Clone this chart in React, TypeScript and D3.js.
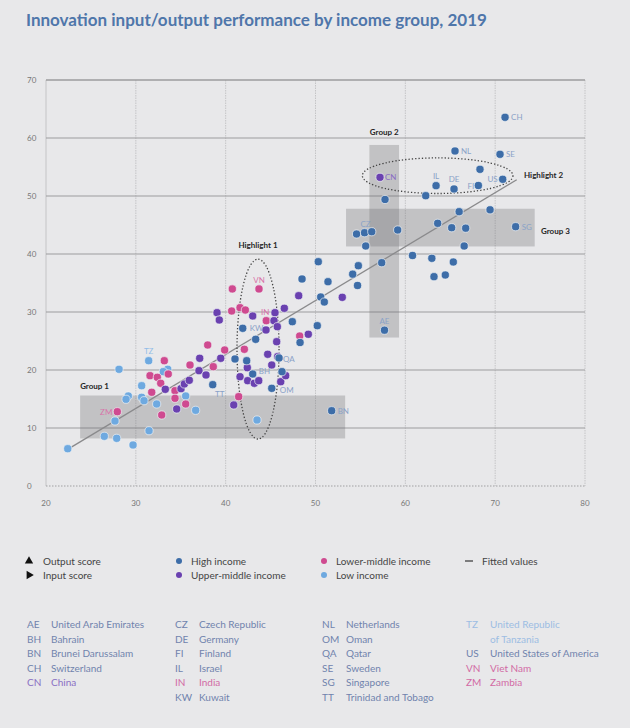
import React from "react";
import * as d3 from "d3";

type Pt = { x: number; y: number; code?: string };

const highIncome: Pt[] = [
  { x: 38.56, y: 17.47, code: "TT" }, { x: 41.04, y: 21.9 }, { x: 41.9, y: 27.19, code: "KW" },
  { x: 42.34, y: 21.6 }, { x: 43.01, y: 19.31, code: "BH" }, { x: 43.34, y: 25.29 },
  { x: 45.13, y: 16.84, code: "OM" }, { x: 46.27, y: 19.71 }, { x: 45.94, y: 22.07, code: "QA" },
  { x: 47.42, y: 28.33 }, { x: 48.28, y: 24.74 }, { x: 50.2, y: 27.64 }, { x: 50.58, y: 32.59 },
  { x: 50.98, y: 31.72 }, { x: 48.5, y: 35.69 }, { x: 50.31, y: 38.67 }, { x: 51.39, y: 35.22 },
  { x: 54.68, y: 34.57 }, { x: 54.14, y: 36.52 }, { x: 54.77, y: 37.98 }, { x: 57.37, y: 38.5 },
  { x: 55.59, y: 41.38 }, { x: 54.57, y: 43.45 }, { x: 55.46, y: 43.67, code: "CZ" },
  { x: 56.26, y: 43.84 }, { x: 59.15, y: 44.14 }, { x: 57.68, y: 26.86, code: "AE" },
  { x: 51.8, y: 12.98, code: "BN" }, { x: 57.74, y: 49.4 }, { x: 62.27, y: 50.05 },
  { x: 63.42, y: 51.78, code: "IL" }, { x: 65.42, y: 51.21, code: "DE" }, { x: 68.13, y: 51.81, code: "FI" },
  { x: 68.31, y: 54.6 }, { x: 70.84, y: 52.88, code: "US" }, { x: 65.53, y: 57.76, code: "NL" },
  { x: 70.54, y: 57.19, code: "SE" }, { x: 71.1, y: 63.57, code: "CH" }, { x: 65.99, y: 47.29 },
  { x: 69.43, y: 47.62 }, { x: 63.6, y: 45.29 }, { x: 65.16, y: 44.53 }, { x: 66.72, y: 44.45 },
  { x: 72.28, y: 44.71, code: "SG" }, { x: 66.55, y: 41.38 }, { x: 60.8, y: 39.74 },
  { x: 62.95, y: 39.26 }, { x: 65.34, y: 38.62 }, { x: 63.19, y: 36.09 }, { x: 64.45, y: 36.38 },
];

const upperMiddle: Pt[] = [
  { x: 33.28, y: 16.67 }, { x: 34.55, y: 13.28 }, { x: 35.03, y: 16.78 }, { x: 35.4, y: 17.59 },
  { x: 35.95, y: 18.22 }, { x: 37.11, y: 22.02 }, { x: 37.03, y: 19.88 }, { x: 37.81, y: 19.14 },
  { x: 39.45, y: 22.02 }, { x: 39.04, y: 29.88 }, { x: 39.29, y: 28.62 }, { x: 40.9, y: 13.97 },
  { x: 42.41, y: 20.4 }, { x: 41.6, y: 18.84 }, { x: 42.45, y: 18.16 }, { x: 43.01, y: 29.31 },
  { x: 43.19, y: 17.71 }, { x: 43.68, y: 18.16 }, { x: 44.49, y: 26.9 }, { x: 45.49, y: 29.88 },
  { x: 45.38, y: 28.5 }, { x: 45.75, y: 27.47 }, { x: 45.68, y: 24.88 }, { x: 44.68, y: 22.71 },
  { x: 45.79, y: 22.29 }, { x: 45.13, y: 20.86 }, { x: 46.13, y: 17.98 }, { x: 46.68, y: 19.02 },
  { x: 46.53, y: 30.64 }, { x: 48.13, y: 32.81 }, { x: 49.2, y: 26.16 }, { x: 52.98, y: 32.53 },
  { x: 57.18, y: 53.22, code: "CN" },
];

const lowerMiddle: Pt[] = [
  { x: 33.17, y: 21.6 }, { x: 31.58, y: 19.02 }, { x: 32.39, y: 18.74 }, { x: 32.77, y: 17.71 },
  { x: 31.77, y: 16.16 }, { x: 34.36, y: 16.43 }, { x: 34.36, y: 15.12 }, { x: 32.88, y: 12.24 },
  { x: 27.94, y: 12.81, code: "ZM" }, { x: 33.61, y: 19.31 }, { x: 35.55, y: 14.14 },
  { x: 36.03, y: 20.86 }, { x: 38.0, y: 24.31 }, { x: 38.62, y: 20.57 }, { x: 39.89, y: 23.45 },
  { x: 40.67, y: 30.17 }, { x: 41.45, y: 15.4 }, { x: 41.6, y: 30.74 }, { x: 42.19, y: 30.34 },
  { x: 42.08, y: 23.57 }, { x: 44.52, y: 28.5, code: "IN" }, { x: 40.74, y: 33.97 },
  { x: 43.71, y: 33.97, code: "VN" }, { x: 48.24, y: 25.86 },
];

const lowIncome: Pt[] = [
  { x: 22.42, y: 6.43 }, { x: 28.13, y: 20.12 }, { x: 31.43, y: 21.6, code: "TZ" },
  { x: 33.55, y: 20.12 }, { x: 33.06, y: 19.71 }, { x: 30.65, y: 17.29 }, { x: 29.16, y: 15.52 },
  { x: 28.91, y: 14.95 }, { x: 30.65, y: 15.29 }, { x: 30.91, y: 14.71 }, { x: 32.32, y: 14.14 },
  { x: 27.68, y: 11.21 }, { x: 31.47, y: 9.53 }, { x: 26.49, y: 8.57 }, { x: 27.87, y: 8.22 },
  { x: 29.69, y: 7.07 }, { x: 35.55, y: 15.52 }, { x: 36.66, y: 13.05 }, { x: 43.49, y: 11.38 },
];

const fittedStart = { x: 22.5, y: 6.4 };
const fittedEnd = { x: 72.4, y: 52.8 };

const groupBoxes = [
  { label: "Group 1", x0: 23.8, x1: 53.3, y0: 8.2, y1: 15.6 },
  { label: "Group 2", x0: 56.0, x1: 59.3, y0: 25.6, y1: 58.8 },
  { label: "Group 3", x0: 53.4, x1: 74.4, y0: 41.3, y1: 47.8 },
];

const highlights = [
  { label: "Highlight 1", cx: 43.6, cy: 23.6, rx: 2.34, ry: 15.5 },
  { label: "Highlight 2", cx: 63.6, cy: 53.5, rx: 8.38, ry: 3.07 },
];

const xTicks = [20, 30, 40, 50, 60, 70, 80];
const yTicks = [0, 10, 20, 30, 40, 50, 60, 70];

const legendShapes = ["Output score", "Input score"];
const legendIncome = ["High income", "Upper-middle income", "Lower-middle income", "Low income"];
const legendFitted = "Fitted values";

const countryCodes = [
  ["AE", "United Arab Emirates", "H"], ["BH", "Bahrain", "H"], ["BN", "Brunei Darussalam", "H"],
  ["CH", "Switzerland", "H"], ["CN", "China", "UM"],
  ["CZ", "Czech Republic", "H"], ["DE", "Germany", "H"], ["FI", "Finland", "H"], ["IL", "Israel", "H"],
  ["IN", "India", "LM"], ["KW", "Kuwait", "H"],
  ["NL", "Netherlands", "H"], ["OM", "Oman", "H"], ["QA", "Qatar", "H"], ["SE", "Sweden", "H"],
  ["SG", "Singapore", "H"], ["TT", "Trinidad and Tobago", "H"],
  ["TZ", "United Republic\nof Tanzania", "L"], ["US", "United States of America", "H"],
  ["VN", "Viet Nam", "LM"], ["ZM", "Zambia", "LM"],
];
const tableColumns = [5, 6, 6, 4];

const colors: Record<string, string> = { H: "#3d6da8", UM: "#6a41b0", LM: "#cf4a90", L: "#6ea9e0" };
const labelColors: Record<string, string> = { H: "#8aa2c8", UM: "#8a6cc4", LM: "#d872a9", L: "#92bde8" };
const tableColors: Record<string, string> = { H: "#7083ad", UM: "#8a70c4", LM: "#d26aa4", L: "#9dbde3" };

const labelPlace: Record<string, [number, number, string]> = {
  CH: [6, 0, "start"], NL: [6, 0, "start"], SE: [6, 0, "start"], CN: [5, 0, "start"],
  IL: [0, -10, "middle"], DE: [0, -10, "middle"], FI: [-4, 0, "end"], US: [-5, 0, "end"],
  SG: [6, 0, "start"], CZ: [1, -9, "middle"], AE: [0, -9, "middle"], BN: [6, 0, "start"],
  KW: [7, 0, "start"], QA: [4, 1, "start"], OM: [8, 2, "start"], BH: [6, -3, "start"],
  TT: [7, 9, "middle"], IN: [-1, -9, "middle"], VN: [0, -9, "middle"], TZ: [0, -10, "middle"],
  ZM: [-5, 0, "end"],
};

const FONT = "Lato, 'Open Sans', sans-serif";

export default function App() {
  const x = d3.scaleLinear().domain([20, 80]).range([46, 585]);
  const y = d3.scaleLinear().domain([0, 70]).range([486, 80]);

  const series: [string, Pt[]][] = [["L", lowIncome], ["LM", lowerMiddle], ["UM", upperMiddle], ["H", highIncome]];
  const line = d3.line<{ x: number; y: number }>().x((d) => x(d.x)).y((d) => y(d.y));
  const tri = d3.symbol().type(d3.symbolTriangle).size(30)() as string;

  const tableCells: any[] = [];
  const colX = [[27, 51], [175, 199], [322, 346], [466, 490]];
  let idx = 0;
  tableColumns.forEach((n, c) => {
    let r = 0;
    for (let k = 0; k < n; k++) {
      const [code, name, g] = countryCodes[idx++];
      const lines = name.split("\n");
      const yy = 628 + r * 14.5;
      tableCells.push(
        <g key={code} fill={tableColors[g]} fontSize={10}>
          <text x={colX[c][0]} y={yy}>{code}</text>
          {lines.map((l, i) => (
            <text key={i} x={colX[c][1]} y={yy + i * 14.5}>{l}</text>
          ))}
        </g>
      );
      r += lines.length;
    }
  });

  return (
    <svg width={630} height={728} style={{ position: "absolute", left: 0, top: 0 }} fontFamily={FONT}>
      <rect width={630} height={728} fill="#e8e8ea" />
      <text x={26} y={26} fontSize={17} fontWeight={700} fill="#4f76aa">
        Innovation input/output performance by income group, 2019
      </text>

      {/* grid */}
      {xTicks.map((t) => (
        <line key={"vx" + t} x1={x(t)} x2={x(t)} y1={y(70)} y2={y(0)} stroke="#c4c4c6" strokeWidth={1}
          strokeDasharray={t === 20 ? undefined : "1.5,1"} />
      ))}
      {yTicks.map((t) => (
        <line key={"hy" + t} x1={x(20)} x2={x(80)} y1={y(t)} y2={y(t)}
          stroke={t === 0 ? "#a0a0a2" : "#9c9c9e"} strokeWidth={t === 70 ? 1.6 : 1}
          strokeDasharray={t === 0 ? "1.5,1.5" : undefined} />
      ))}
      {yTicks.map((t) => (
        <text key={"yl" + t} x={27} y={y(t) + 3} fontSize={8} fill="#777">{t}</text>
      ))}
      {xTicks.map((t) => (
        <text key={"xl" + t} x={x(t)} y={506} fontSize={8} fill="#777" textAnchor="middle">{t}</text>
      ))}

      {/* group boxes */}
      {groupBoxes.map((b) => (
        <rect key={b.label} x={x(b.x0)} y={y(b.y1)} width={x(b.x1) - x(b.x0)} height={y(b.y0) - y(b.y1)}
          fill="#6a6a6c" fillOpacity={0.3} />
      ))}

      {/* fitted line */}
      <path d={line([fittedStart, fittedEnd]) as string} stroke="#8a8a8c" strokeWidth={1.3} fill="none" />

      {/* highlights */}
      {highlights.map((h) => (
        <ellipse key={h.label} cx={x(h.cx)} cy={y(h.cy)} rx={x(h.cx + h.rx) - x(h.cx)} ry={y(h.cy) - y(h.cy + h.ry)}
          fill="none" stroke="#444" strokeWidth={1.3} strokeDasharray="1.3,2" />
      ))}

      {/* points */}
      {series.map(([g, pts]) =>
        pts.map((p, i) => (
          <circle key={g + i} cx={x(p.x)} cy={y(p.y)} r={4.1} fill={colors[g]} stroke="#eef0f4" strokeWidth={0.7} />
        ))
      )}

      {/* point labels */}
      {series.map(([g, pts]) =>
        pts.filter((p) => p.code).map((p) => {
          const [dx, dy, anchor] = labelPlace[p.code as string];
          return (
            <text key={"l" + p.code} x={x(p.x) + dx} y={y(p.y) + dy + 3} fontSize={8} fill={labelColors[g]}
              textAnchor={anchor}>{p.code}</text>
          );
        })
      )}

      {/* annotation labels */}
      <g fontSize={8} fontWeight={700} fill="#262626">
        <text x={x(groupBoxes[0].x0)} y={389}>{groupBoxes[0].label}</text>
        <text x={x((groupBoxes[1].x0 + groupBoxes[1].x1) / 2)} y={135} textAnchor="middle">{groupBoxes[1].label}</text>
        <text x={541} y={234}>{groupBoxes[2].label}</text>
        <text x={x(highlights[0].cx)} y={248} textAnchor="middle">{highlights[0].label}</text>
        <text x={524} y={178}>{highlights[1].label}</text>
      </g>

      {/* legend */}
      <g fontSize={10} fill="#444">
        <path d={tri} transform="translate(29,561)" fill="#111" />
        <path d={tri} transform="translate(29,575) rotate(90)" fill="#111" />
        <text x={43} y={564.5}>{legendShapes[0]}</text>
        <text x={43} y={578.5}>{legendShapes[1]}</text>
        {legendIncome.map((l, i) => {
          const cx = i < 2 ? 179 : 324;
          const cy = i % 2 === 0 ? 561 : 575;
          const g = ["H", "UM", "LM", "L"][i];
          return (
            <g key={l}>
              <circle cx={cx} cy={cy} r={3} fill={colors[g]} />
              <text x={cx + 12} y={cy + 3.5}>{l}</text>
            </g>
          );
        })}
        <line x1={465} x2={473} y1={561} y2={561} stroke="#333" strokeWidth={1.2} />
        <text x={482} y={564.5}>{legendFitted}</text>
      </g>

      {tableCells}
    </svg>
  );
}
